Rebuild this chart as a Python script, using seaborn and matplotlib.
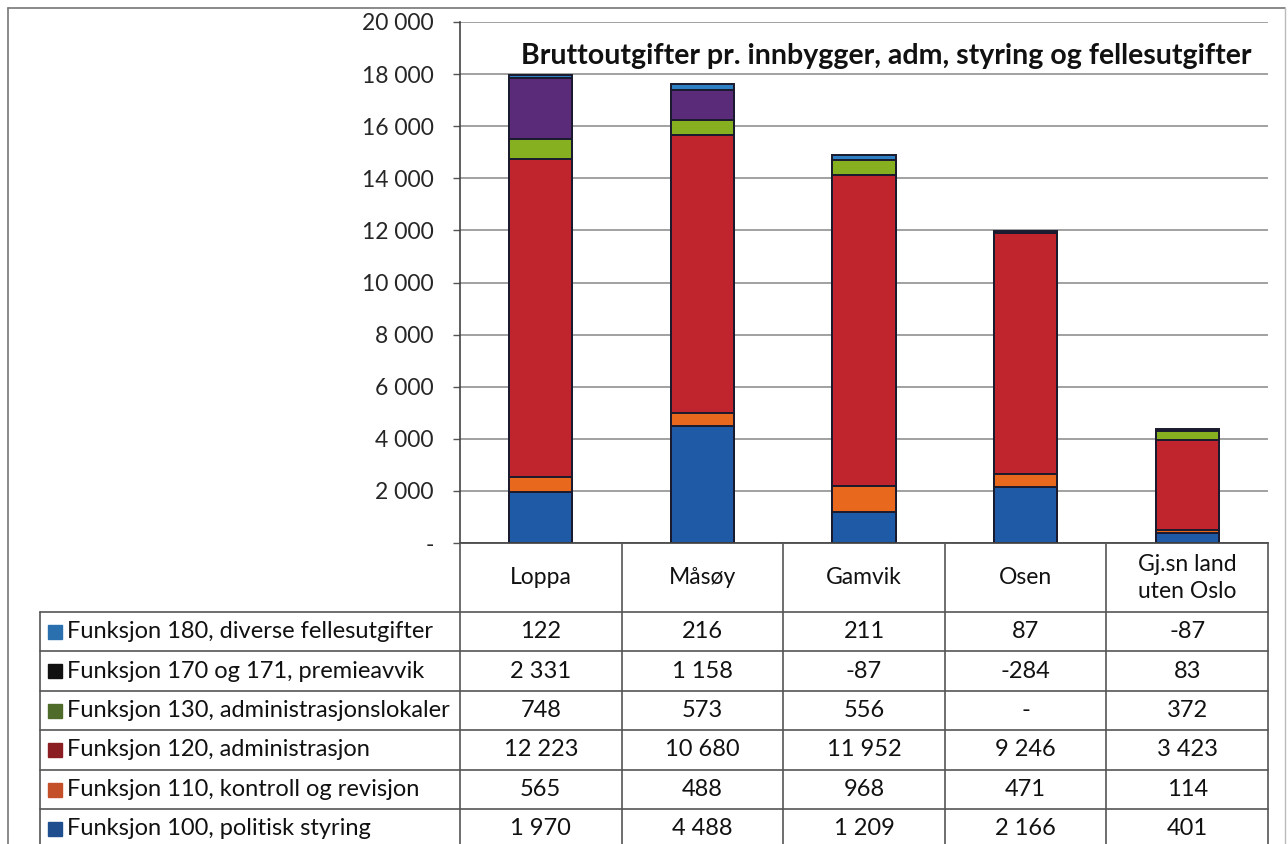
import numpy as np
import matplotlib
matplotlib.use('Agg')
import matplotlib.pyplot as plt
import seaborn as sns
from matplotlib.patches import Rectangle
from matplotlib.lines import Line2D

# categories and series (values per inhabitant)
kommuner = ['Loppa', 'Måsøy', 'Gamvik', 'Osen', 'Gj.sn land\nuten Oslo']
f100 = [1970, 4488, 1209, 2166, 401]
f110 = [565, 488, 968, 471, 114]
f120 = [12223, 10680, 11952, 9246, 3423]
f130 = [748, 573, 556, 0, 372]
f170 = [2331, 1158, -87, -284, 83]
f180 = [122, 216, 211, 87, -87]

series_names = [
    'Funksjon 100, politisk styring',
    'Funksjon 110, kontroll og revisjon',
    'Funksjon 120, administrasjon',
    'Funksjon 130, administrasjonslokaler',
    'Funksjon 170 og 171, premieavvik',
    'Funksjon 180, diverse fellesutgifter',
]
series = [f100, f110, f120, f130, f170, f180]
bar_colors = ['#1f5aa6', '#e8691e', '#c0242c', '#86b020', '#5a2b78', '#2e80c2']
legend_colors = ['#1f4e8f', '#c4502a', '#8b1e22', '#4f6b2a', '#111111', '#2a6fae']

title = 'Bruttoutgifter pr. innbygger, adm, styring og fellesutgifter'

W, H = 1288, 844
sns.set_theme(style='white')
plt.rcParams['font.family'] = ['Lato', 'DejaVu Sans']

fig = plt.figure(figsize=(W / 100, H / 100), dpi=100)
ax = fig.add_axes([460 / W, (H - 543) / H, (1268 - 460) / W, (543 - 22) / H])

# stacked bars: draw cumulative totals from top layer down
pos = np.clip(np.array(series, dtype=float), 0, None)
cum = np.cumsum(pos, axis=0)
for k in range(len(series) - 1, -1, -1):
    hk = np.where(pos[k] > 0, cum[k], np.nan)
    sns.barplot(x=list(range(len(kommuner))), y=hk, color=bar_colors[k],
                saturation=1, width=0.39, edgecolor='#1a1a2e', linewidth=1.4,
                ax=ax, native_scale=True)

ax.set_xlim(-0.5, len(kommuner) - 0.5)
ax.set_ylim(0, 20000)
ax.set_yticks(range(0, 20001, 2000))
ax.set_yticklabels(['-'] + [f'{v:,}'.replace(',', ' ') for v in range(2000, 20001, 2000)],
                   fontsize=16.5)
ax.set_xticks([])
ax.set_xlabel('')
ax.set_ylabel('')
ax.yaxis.grid(True, color='#9a9a9a', linewidth=1.3)
ax.set_axisbelow(True)
ax.tick_params(axis='y', which='both', left=True, length=5, width=1, color='#555555', pad=14)
for s in ['top', 'right']:
    ax.spines[s].set_visible(False)
ax.spines['left'].set_color('#444444')
ax.spines['bottom'].set_color('#444444')
ax.spines['left'].set_linewidth(1.2)
ax.text(0.98, 0.935, title, transform=ax.transAxes, ha='right', va='center',
        fontsize=20.5, fontweight='bold', color='#111111')

# table overlay in pixel coordinates
tab = fig.add_axes([0, 0, 1, 1])
tab.set_xlim(0, W)
tab.set_ylim(H, 0)
tab.axis('off')
tab.patch.set_alpha(0)

col_edges = np.linspace(460, 1268, len(kommuner) + 1)
row_edges = [612, 651, 691, 730, 770, 809, 848]
lc = '#555555'
for xe in col_edges:
    tab.add_line(Line2D([xe, xe], [543, H], color=lc, lw=1.2))
tab.add_line(Line2D([40, 40], [612, H], color=lc, lw=1.2))
for ye in row_edges[:-1]:
    tab.add_line(Line2D([40, 1268], [ye, ye], color=lc, lw=1.2))

centers = (col_edges[:-1] + col_edges[1:]) / 2
for cx, name in zip(centers, kommuner):
    tab.text(cx, 578, name, ha='center', va='center', fontsize=16.5,
             linespacing=1.35, color='#111111')


def fmt(v):
    if v == 0:
        return '-'
    s = f'{abs(v):,}'.replace(',', ' ')
    return ('-' if v < 0 else '') + s


# rows top to bottom: 180, 170, 130, 120, 110, 100
for r, k in enumerate(range(len(series) - 1, -1, -1)):
    cy = (row_edges[r] + row_edges[r + 1]) / 2
    tab.add_patch(Rectangle((48, cy - 7), 14, 14, color=legend_colors[k]))
    tab.text(67, cy, series_names[k], ha='left', va='center', fontsize=17, color='#111111')
    for cx, v in zip(centers, series[k]):
        tab.text(cx, cy, fmt(v), ha='center', va='center', fontsize=17, color='#111111')

# outer frame
tab.add_line(Line2D([8, 1285], [8, 8], color='#777777', lw=1.2))
tab.add_line(Line2D([8, 8], [8, H], color='#777777', lw=1.2))
tab.add_line(Line2D([1285, 1285], [8, H], color='#bbbbbb', lw=1.0))

fig.savefig('out.png', dpi=100)
